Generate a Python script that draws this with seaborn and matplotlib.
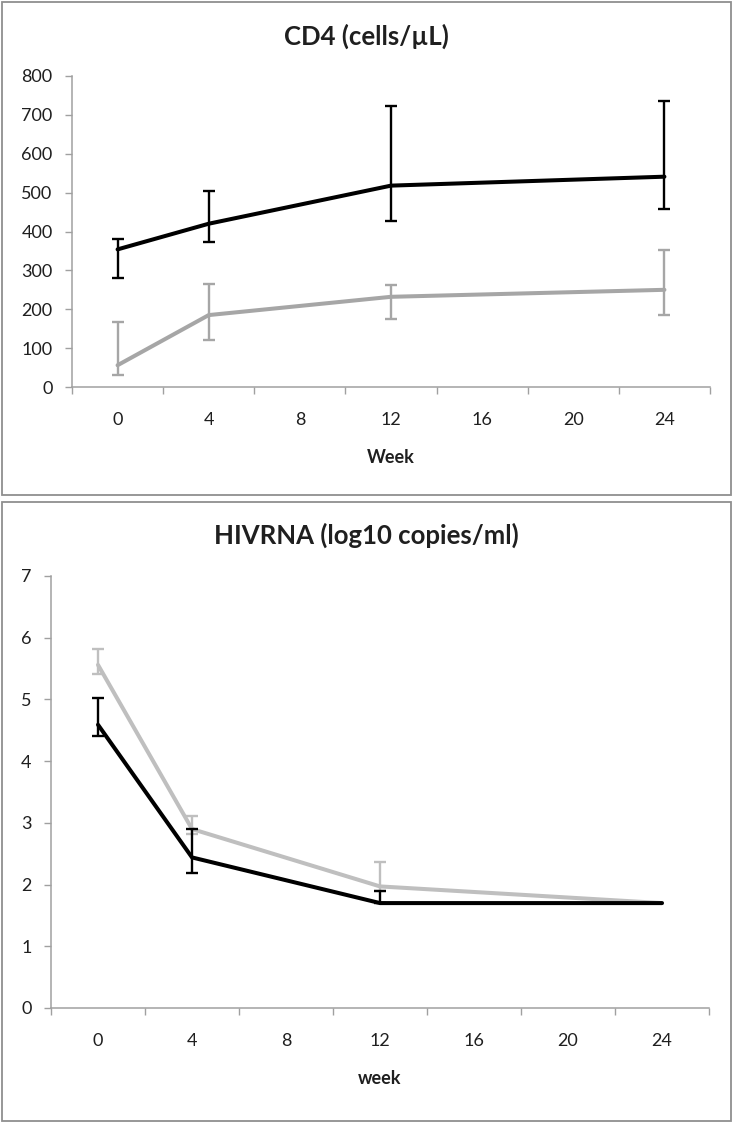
import matplotlib
matplotlib.use("Agg")
import matplotlib.pyplot as plt
from matplotlib.patches import Rectangle
import numpy as np
import pandas as pd
import seaborn as sns

# category axis (Excel-style): every 4 weeks, data only at some of them
week_labels = ["0", "4", "8", "12", "16", "20", "24"]
obs_weeks = ["0", "4", "12", "24"]

cd4_black = [354, 420, 518, 541]
cd4_black_lo = [280, 373, 426, 457]
cd4_black_hi = [381, 503, 724, 736]
cd4_gray = [56, 185, 232, 250]
cd4_gray_lo = [30, 122, 176, 185]
cd4_gray_hi = [168, 265, 263, 353]

hiv_black = [4.59, 2.44, 1.70, 1.70]
hiv_black_lo = [4.41, 2.19, 1.70, 1.70]
hiv_black_hi = [5.03, 2.90, 1.90, 1.70]
hiv_gray = [5.56, 2.90, 1.97, 1.70]
hiv_gray_lo = [5.42, 2.82, 1.90, 1.70]
hiv_gray_hi = [5.81, 3.11, 2.37, 1.70]

sns.set_theme(style="white")
plt.rcParams["font.family"] = ["Lato", "DejaVu Sans"]

W, H = 733, 1123
fig = plt.figure(figsize=(W / 100, H / 100), dpi=100)

AXIS_C = "#a0a0a0"
TEXT_C = "#1f1f1f"


def fx(px):
    return px / W


def fy(py):
    return 1 - py / H


def panel(rect, series, ylim, yticks, gray_c, xlabel):
    x0, y0, x1, y1 = rect  # pixel box of the plot area
    ax = fig.add_axes([fx(x0), fy(y1), fx(x1) - fx(x0), fy(y0) - fy(y1)])
    pos = [week_labels.index(w) for w in obs_weeks]
    frames = []
    for name, vals, lo, hi in series:
        frames.append(pd.DataFrame({"pos": pos, "value": vals, "group": name}))
    df = pd.concat(frames)
    sns.lineplot(data=df, x="pos", y="value", hue="group",
                 hue_order=["gray", "black"],
                 palette={"gray": gray_c, "black": "black"},
                 linewidth=2.9, legend=False, ax=ax, zorder=2)
    for name, vals, lo, hi in series:
        c = gray_c if name == "gray" else "black"
        v, l, h = np.array(vals), np.array(lo), np.array(hi)
        keep = h > l
        ax.errorbar(np.array(pos)[keep], v[keep],
                    yerr=[(v - l)[keep], (h - v)[keep]], fmt="none",
                    ecolor=c, elinewidth=1.7, capsize=4.5, capthick=1.7,
                    zorder=3)
    ax.set_xlim(-0.5, len(week_labels) - 0.5)
    ax.set_ylim(*ylim)
    ax.set_xticks(np.arange(-0.5, len(week_labels)), [""] * (len(week_labels) + 1))
    ax.set_xticks(range(len(week_labels)), week_labels, minor=True)
    ax.tick_params(axis="x", which="major", direction="out", length=5,
                   width=1, color=AXIS_C, bottom=True)
    ax.tick_params(axis="x", which="minor", length=0, pad=18,
                   labelsize=13, labelcolor=TEXT_C)
    ax.set_yticks(yticks)
    ax.tick_params(axis="y", direction="out", length=5, width=1,
                   color=AXIS_C, left=True, pad=9, labelsize=13,
                   labelcolor=TEXT_C)
    sns.despine(ax=ax)
    for s in ("left", "bottom"):
        ax.spines[s].set_color(AXIS_C)
        ax.spines[s].set_linewidth(1.1)
    ax.set_xlabel(xlabel, fontsize=13, fontweight="bold", color=TEXT_C,
                  labelpad=15)
    ax.set_ylabel("")
    return ax


panel((72, 76, 710, 387),
      [("gray", cd4_gray, cd4_gray_lo, cd4_gray_hi),
       ("black", cd4_black, cd4_black_lo, cd4_black_hi)],
      (0, 800), range(0, 801, 100), "#a6a6a6", "Week")

panel((51, 576, 709, 1008),
      [("gray", hiv_gray, hiv_gray_lo, hiv_gray_hi),
       ("black", hiv_black, hiv_black_lo, hiv_black_hi)],
      (0, 7), range(0, 8), "#bfbfbf", "week")

fig.text(0.5, fy(36), "CD4 (cells/µL)", ha="center", va="center",
         fontsize=18.5, fontweight="bold", color=TEXT_C)
fig.text(0.5, fy(535), "HIVRNA (log10 copies/ml)", ha="center", va="center",
         fontsize=18.5, fontweight="bold", color=TEXT_C)

# chart frames
for top, bot in [(2, 495), (502, 1121)]:
    fig.add_artist(Rectangle((fx(2), fy(bot)), fx(731) - fx(2), fy(top) - fy(bot),
                             transform=fig.transFigure, fill=False,
                             edgecolor="#8f8f8f", linewidth=1.3))

fig.savefig("out.png", dpi=100)
